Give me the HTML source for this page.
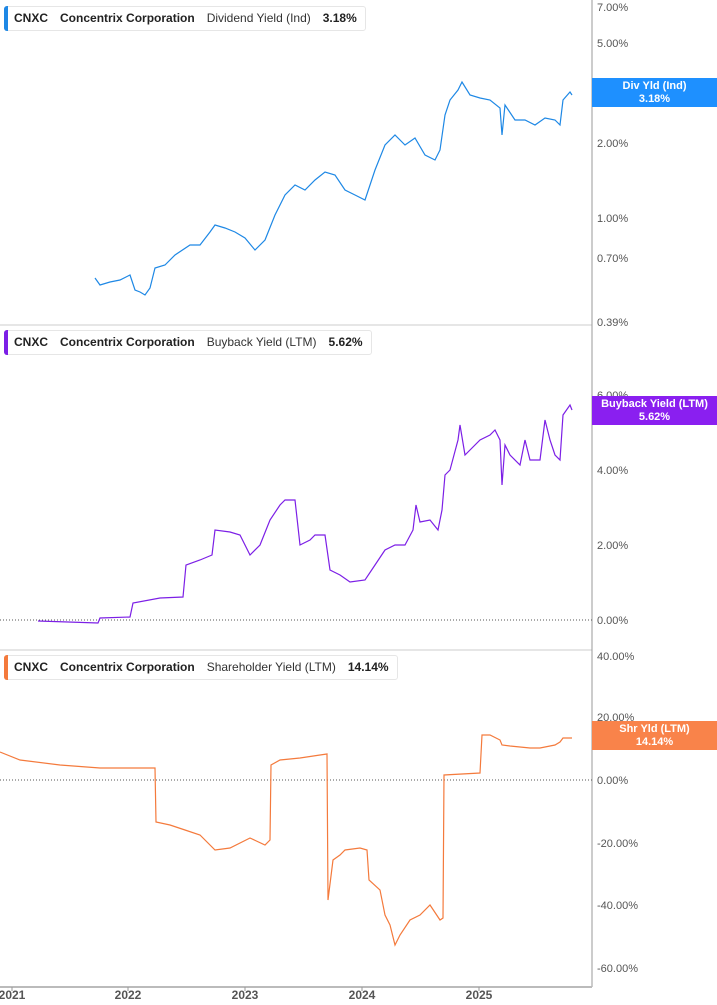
<!DOCTYPE html>
<html><head><meta charset="utf-8"><style>
body{margin:0;background:#fff;font-family:"Liberation Sans",sans-serif}
.lg{position:absolute;left:4px;height:23px;border:1px solid #e6e6e6;border-radius:3px;background:#fff;font-size:12px;font-weight:bold;color:#222;line-height:23px;padding:0 8px 0 9px;white-space:nowrap}
.lg:before{content:"";position:absolute;left:-1px;top:-1px;bottom:-1px;width:4px;border-radius:3px 0 0 3px;background:var(--c)}
.lg span{margin-right:12px}.lg .n{font-weight:normal;color:#333}
.tag{position:absolute;left:592px;width:125px;color:#fff;font-size:11px;font-weight:bold;text-align:center;line-height:13px;padding-top:2px}
</style></head><body>
<div style="position:relative;width:717px;height:1005px;overflow:hidden">
<svg width="717" height="1005" style="position:absolute;left:0;top:0" font-family="Liberation Sans" font-size="11" fill="#555">
<line x1="0" y1="325" x2="592" y2="325" stroke="#ccc"/>
<line x1="0" y1="650" x2="592" y2="650" stroke="#ccc"/>
<line x1="592" y1="0" x2="592" y2="987" stroke="#999"/>
<line x1="0" y1="987" x2="592" y2="987" stroke="#bbb" stroke-width="2"/>
<line x1="0" y1="620" x2="592" y2="620" stroke="#555" stroke-dasharray="1,2"/>
<line x1="0" y1="780" x2="592" y2="780" stroke="#555" stroke-dasharray="1,2"/>
<g>
<text x="597" y="11">7.00%</text><text x="597" y="47">5.00%</text><text x="597" y="102">3.00%</text><text x="597" y="147">2.00%</text><text x="597" y="222">1.00%</text><text x="597" y="262">0.70%</text><text x="597" y="326">0.39%</text>
<text x="597" y="399">6.00%</text><text x="597" y="474">4.00%</text><text x="597" y="549">2.00%</text><text x="597" y="624">0.00%</text>
<text x="597" y="660">40.00%</text><text x="597" y="721">20.00%</text><text x="597" y="784">0.00%</text><text x="597" y="847">-20.00%</text><text x="597" y="909">-40.00%</text><text x="597" y="972">-60.00%</text>
</g>
<g font-weight="bold" font-size="12" fill="#555" text-anchor="middle">
<text x="12" y="999">2021</text><text x="128" y="999">2022</text><text x="245" y="999">2023</text><text x="362" y="999">2024</text><text x="479" y="999">2025</text>
</g>
<g stroke="#999"><line x1="12" y1="987" x2="12" y2="991"/><line x1="128" y1="987" x2="128" y2="991"/><line x1="245" y1="987" x2="245" y2="991"/><line x1="362" y1="987" x2="362" y2="991"/><line x1="479" y1="987" x2="479" y2="991"/></g>
<polyline fill="none" stroke="#1e88e5" stroke-width="1.2" points="95,278 100,285 110,282 120,280 130,275 135,290 140,292 145,295 150,288 155,268 165,265 175,255 190,245 200,245 210,232 215,225 225,228 235,232 245,238 255,250 265,240 275,215 285,195 295,185 305,190 315,180 325,172 335,175 345,190 355,195 365,200 375,170 385,145 395,135 405,145 415,138 425,155 435,160 440,150 445,115 450,100 458,90 462,82 470,95 480,98 490,100 500,108 502,135 505,105 515,120 525,120 535,125 545,118 555,120 560,125 563,100 570,92 572,95"/>
<polyline fill="none" stroke="#7c1fe6" stroke-width="1.2" points="38,621 98,623 100,618 130,617 133,603 160,598 183,597 186,565 200,560 212,555 215,530 230,532 240,535 250,555 260,545 270,520 280,505 285,500 295,500 300,545 310,540 315,535 325,535 330,570 340,575 350,582 365,580 375,565 385,550 395,545 405,545 413,530 416,505 420,522 430,520 438,530 442,510 445,475 450,470 458,440 460,425 465,455 470,450 480,440 490,435 495,430 500,440 502,485 505,445 510,455 520,465 525,440 530,460 540,460 545,420 550,440 555,455 560,460 563,415 570,405 572,410"/>
<polyline fill="none" stroke="#f47a3c" stroke-width="1.2" points="0,752 20,760 60,765 100,768 155,768 156,822 170,825 185,830 200,835 215,850 230,848 250,838 265,845 270,840 271,765 280,760 300,758 320,755 327,754 328,900 333,860 340,855 345,850 360,848 367,850 369,880 380,890 385,915 390,925 395,945 400,935 410,920 420,915 430,905 440,920 443,918 444,775 480,773 482,735 490,735 500,740 502,745 510,746 530,748 540,748 555,745 560,742 563,738 572,738"/>
</svg>
<div class="lg" style="top:6px;--c:#1e88e5"><span>CNXC</span><span>Concentrix Corporation</span><span class="n">Dividend Yield (Ind)</span>3.18%</div>
<div class="lg" style="top:330px;--c:#7c1fe6"><span>CNXC</span><span>Concentrix Corporation</span><span class="n">Buyback Yield (LTM)</span>5.62%</div>
<div class="lg" style="top:655px;--c:#f47a3c"><span>CNXC</span><span>Concentrix Corporation</span><span class="n">Shareholder Yield (LTM)</span>14.14%</div>
<div class="tag" style="top:78px;height:27px;background:#1e90ff">Div Yld (Ind)<br>3.18%</div>
<div class="tag" style="top:396px;height:27px;background:#8a1ff0">Buyback Yield (LTM)<br>5.62%</div>
<div class="tag" style="top:721px;height:27px;background:#f9834a">Shr Yld (LTM)<br>14.14%</div>
</div>
</body></html>
